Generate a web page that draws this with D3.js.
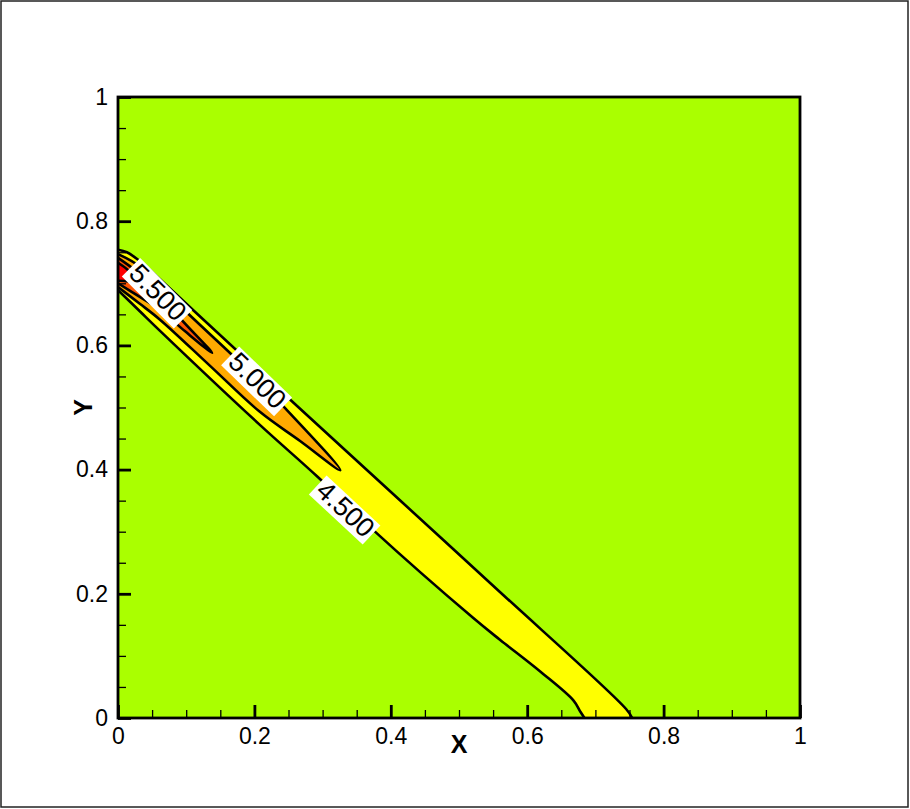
<!DOCTYPE html>
<html>
<head>
<meta charset="utf-8">
<script src="https://cdn.jsdelivr.net/npm/d3@7"></script>
<style>
  body { margin: 0; background: #fff; }
  svg text { font-family: "Liberation Sans", Arial, Helvetica, sans-serif; }
</style>
</head>
<body>
<div id="chart"></div>
<script>
// Contour levels and the boundary of each level (x, y in data units)
const levels = [4.5, 5.0, 5.5, 6.0];
const upper45 = [[0, 0.754], [0.013, 0.750], [0.028, 0.739], [0.047, 0.721], [0.110, 0.657], [0.255, 0.510], [0.413, 0.351], [0.560, 0.203], [0.745, 0.0145], [0.754, 0]];
const lower45 = [[0, 0.689], [0.032, 0.655], [0.062, 0.623], [0.208, 0.472], [0.293, 0.388], [0.374, 0.303], [0.521, 0.161], [0.560, 0.126], [0.620, 0.074], [0.668, 0.028], [0.678, 0.010], [0.684, 0]];
const upper50 = [[0, 0.747], [0.032, 0.727], [0.103, 0.651], [0.167, 0.585], [0.205, 0.544], [0.245, 0.499], [0.326, 0.399]];
const lower50 = [[0, 0.694], [0.032, 0.667], [0.062, 0.641], [0.135, 0.567], [0.208, 0.493], [0.267, 0.446], [0.326, 0.399]];
const upper55 = [[0, 0.741], [0.025, 0.721], [0.062, 0.683], [0.091, 0.644], [0.138, 0.588]];
const lower55 = [[0, 0.700], [0.032, 0.678], [0.062, 0.657], [0.098, 0.623], [0.138, 0.588]];
const upper60 = [[0, 0.733], [0.016, 0.720], [0.030, 0.701]];
const lower60 = [[0, 0.704], [0.015, 0.703], [0.030, 0.701]];

// Contour labels
const labelText = ["5.500", "5.000", "4.500"];
const labelX = [0.059, 0.205, 0.334];
const labelY = [0.686, 0.544, 0.337];

// Axis ticks
const majorTicks = [0, 0.2, 0.4, 0.6, 0.8, 1];
const minorTicks = d3.range(0, 1.0001, 0.05).filter(v => Math.abs(v * 5 - Math.round(v * 5)) > 1e-6);

const width = 910;
const height = 809;
const margin = { left: 118, top: 97, right: 110, bottom: 91 };
const innerW = width - margin.left - margin.right;
const innerH = height - margin.top - margin.bottom;

const bgColor = "#aaff00";
const fillColors = ["#ffff00", "#ffaa00", "#ff5500", "#ff0000"];

const svg = d3.select("#chart").append("svg")
  .attr("width", width)
  .attr("height", height);

// outer frame of the picture
svg.append("rect")
  .attr("x", 1).attr("y", 1)
  .attr("width", width - 3).attr("height", height - 3)
  .attr("fill", "none").attr("stroke", "#222").attr("stroke-width", 1.5);

const x = d3.scaleLinear().domain([0, 1]).range([0, innerW]);
const y = d3.scaleLinear().domain([0, 1]).range([innerH, 0]);

const g = svg.append("g").attr("transform", `translate(${margin.left},${margin.top})`);

g.append("clipPath").attr("id", "plot-clip")
  .append("rect").attr("width", innerW).attr("height", innerH);

g.append("rect").attr("width", innerW).attr("height", innerH).attr("fill", bgColor);

const line = d3.line()
  .x(d => x(d[0]))
  .y(d => y(d[1]))
  .curve(d3.curveCatmullRom.alpha(0.5));

const bands = [
  { upper: upper45, lower: lower45, closed: false },
  { upper: upper50, lower: lower50, closed: true },
  { upper: upper55, lower: lower55, closed: true },
  { upper: upper60, lower: lower60, closed: true }
];

const plot = g.append("g").attr("clip-path", "url(#plot-clip)");

// filled regions, lowest level first
bands.forEach((b, i) => {
  const ring = b.closed
    ? b.upper.concat(b.lower.slice(0, -1).reverse())
    : b.upper.concat(b.lower.slice().reverse());
  plot.append("path")
    .attr("d", line(ring) + "Z")
    .attr("fill", fillColors[i]);
});

// contour lines
bands.forEach(b => {
  const paths = b.closed ? [b.upper.concat(b.lower.slice(0, -1).reverse())] : [b.upper, b.lower];
  paths.forEach(pts => {
    plot.append("path")
      .attr("d", line(pts))
      .attr("fill", "none")
      .attr("stroke", "#000")
      .attr("stroke-width", 2.6)
      .attr("stroke-linejoin", "round");
  });
});

// contour labels with white boxes
const labelAngle = [45, 44, 43];
labelText.forEach((t, i) => {
  const lg = plot.append("g")
    .attr("transform", `translate(${x(labelX[i])},${y(labelY[i])}) rotate(${labelAngle[i]})`);
  const txt = lg.append("text")
    .attr("text-anchor", "middle")
    .attr("dy", "0.36em")
    .attr("font-size", 27)
    .attr("fill", "#000")
    .text(t);
  const bb = txt.node().getBBox();
  lg.insert("rect", "text")
    .attr("x", bb.x - 3).attr("y", bb.y + 3)
    .attr("width", bb.width + 6).attr("height", bb.height - 4)
    .attr("fill", "#fff");
});

// axes: ticks point inward
const xAxis = d3.axisBottom(x).tickValues(majorTicks)
  .tickSizeInner(-13).tickSizeOuter(0).tickPadding(10)
  .tickFormat(d3.format("~g"));
const xMinor = d3.axisBottom(x).tickValues(minorTicks)
  .tickSizeInner(-8).tickSizeOuter(0).tickFormat("");
const yAxis = d3.axisLeft(y).tickValues(majorTicks)
  .tickSizeInner(-13).tickSizeOuter(0).tickPadding(10)
  .tickFormat(d3.format("~g"));
const yMinor = d3.axisLeft(y).tickValues(minorTicks)
  .tickSizeInner(-8).tickSizeOuter(0).tickFormat("");

function styleAxis(sel, w) {
  sel.attr("font-size", 23);
  sel.select(".domain").remove();
  sel.selectAll(".tick line").attr("stroke", "#000").attr("stroke-width", w);
  sel.selectAll(".tick text")
    .attr("font-size", 23).attr("fill", "#000");
}

g.append("g").attr("transform", `translate(0,${innerH})`).call(xMinor).call(s => styleAxis(s, 1.3));
g.append("g").attr("transform", `translate(0,${innerH})`).call(xAxis).call(s => styleAxis(s, 2.8));
g.append("g").call(yMinor).call(s => styleAxis(s, 1.3));
g.append("g").call(yAxis).call(s => styleAxis(s, 2.8));

// plot frame
g.append("rect")
  .attr("width", innerW).attr("height", innerH)
  .attr("fill", "none").attr("stroke", "#000").attr("stroke-width", 2.8);

// axis titles
g.append("text")
  .attr("x", x(0.5)).attr("y", innerH + 35)
  .attr("text-anchor", "middle")
  .attr("font-size", 25).attr("font-weight", "bold")
  .text("X");

g.append("text")
  .attr("transform", `translate(${92 - margin.left},${y(0.5)}) rotate(-90)`)
  .attr("text-anchor", "middle")
  .attr("font-size", 25).attr("font-weight", "bold")
  .text("Y");
</script>
</body>
</html>
